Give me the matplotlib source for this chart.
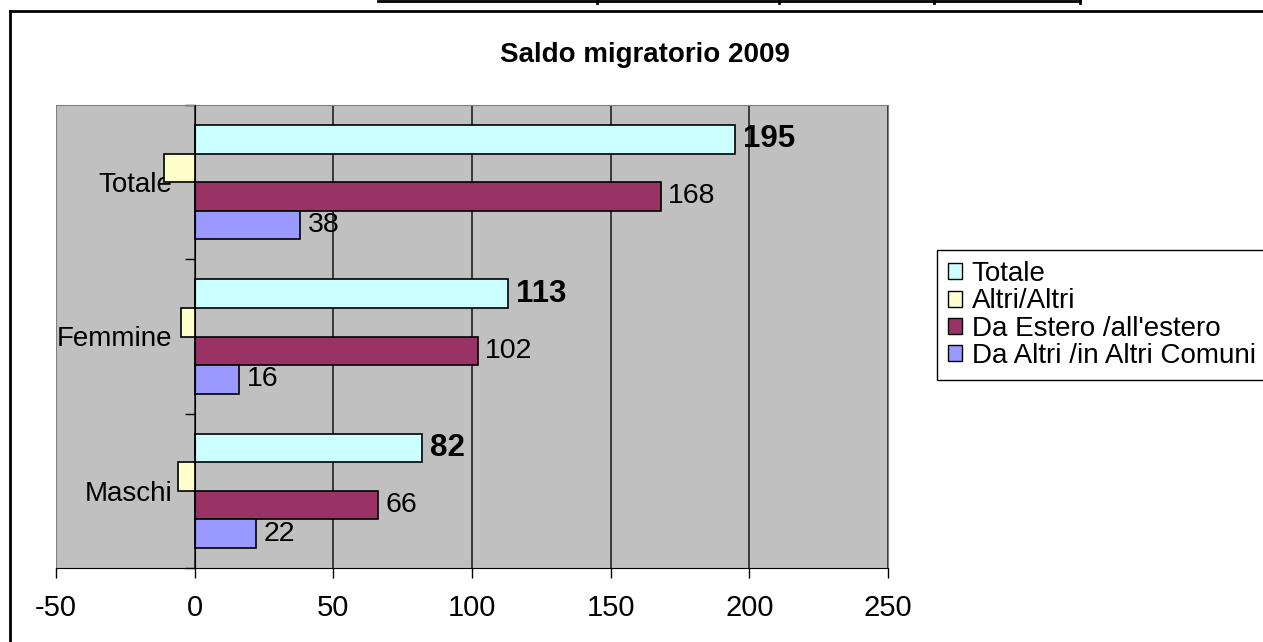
import numpy as np
import matplotlib.pyplot as plt
from matplotlib.patches import Patch
from matplotlib.lines import Line2D

plt.rcParams['font.family'] = ['Liberation Sans', 'DejaVu Sans']

categories = ['Maschi', 'Femmine', 'Totale']
series = ['Totale', 'Altri/Altri', "Da Estero /all'estero", 'Da Altri /in Altri Comuni']
totale = [82, 113, 195]
altri = [-6, -5, -11]
estero = [66, 102, 168]
comuni = [22, 16, 38]
colors = ['#CCFFFF', '#FFFFCC', '#993366', '#9999FF']
xticks = [-50, 0, 50, 100, 150, 200, 250]

fig = plt.figure(figsize=(12.63, 6.42), dpi=100)
ax = fig.add_axes([56/1263, 1-568/642, (888-56)/1263, (568-105)/642])
ax.set_facecolor('#C0C0C0')

y = np.arange(len(categories))
h = 0.185
vals = [totale, altri, estero, comuni]
offs = [1.5*h, 0.5*h, -0.5*h, -1.5*h]
for i in range(4):
    bars = ax.barh(y + offs[i], vals[i], height=h, color=colors[i],
                   edgecolor='black', linewidth=1.2, zorder=3)
    if i == 1:
        continue
    for b, v in zip(bars, vals[i]):
        ax.annotate(str(v), (v, b.get_y() + h/2), xytext=(5.5, 0),
                    textcoords='offset points', va='center', ha='left',
                    fontsize=22.5 if i == 0 else 20.5,
                    fontweight='bold' if i == 0 else 'normal', zorder=5)

ax.set_xlim(-50, 250)
ax.set_ylim(-0.5, 2.5)
ax.set_xticks(xticks)
ax.set_xticklabels([str(t) for t in xticks], fontsize=21)
ax.xaxis.grid(True, color='#222222', linewidth=1.2, zorder=1)
ax.tick_params(axis='x', direction='out', length=7, width=1, pad=12)

ax.spines['left'].set_position(('data', 0))
ax.spines['left'].set_zorder(4)
ax.set_yticks(y)
ax.set_yticklabels(categories, fontsize=20)
ax.set_yticks([-0.5, 0.5, 1.5, 2.5], minor=True)
ax.tick_params(axis='y', which='major', length=0, pad=16)
ax.tick_params(axis='y', which='minor', direction='out', length=7, width=1)
for s in ['top', 'right']:
    ax.spines[s].set_color('#808080')
ax.axvline(-50, color='#808080', linewidth=1.5, zorder=2)
ax.set_axisbelow(True)

fig.text(645/1263, 1-55/642, 'Saldo migratorio 2009', ha='center', va='center',
         fontsize=20, fontweight='bold')

handles = [Patch(facecolor=c, edgecolor='black', linewidth=1) for c in colors]
fig.legend(handles, series, loc='upper left', bbox_to_anchor=(937/1263, 1-250/642),
           borderaxespad=0, fontsize=20, frameon=True, fancybox=False,
           edgecolor='black', framealpha=1, handlelength=0.5, handleheight=0.5,
           handletextpad=0.35, labelspacing=0.05, borderpad=0.4)

# chart frame and the table edge above it
fig.add_artist(Line2D([10/1263, 1], [1-11/642, 1-11/642], color='black', linewidth=2))
fig.add_artist(Line2D([10/1263, 10/1263], [0, 1-11/642], color='black', linewidth=2))
fig.add_artist(Line2D([378/1263, 1080/1263], [1-1/642, 1-1/642], color='black', linewidth=2))
for xp in [597, 779, 934, 1080]:
    fig.add_artist(Line2D([xp/1263, xp/1263], [1-3/642, 1], color='black', linewidth=2))

fig.savefig('out.png', dpi=100)
